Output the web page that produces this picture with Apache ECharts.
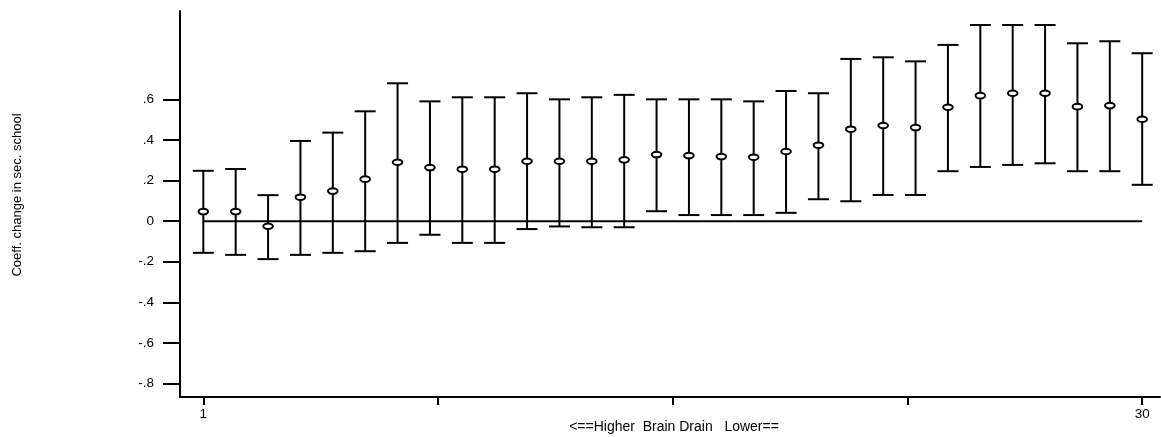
<!DOCTYPE html>
<html>
<head>
<meta charset="utf-8">
<style>
  html, body { margin: 0; padding: 0; background: #fff; }
  #chart { width: 1161px; height: 437px; }
</style>
<script src="https://cdn.jsdelivr.net/npm/echarts@6/dist/echarts.min.js"></script>
</head>
<body>
<div id="chart"></div>
<script>
// ---- data ----
const positions = [1,2,3,4,5,6,7,8,9,10,11,12,13,14,15,16,17,18,19,20,21,22,23,24,25,26,27,28,29,30];
const coef  = [0.047,0.047,-0.025,0.118,0.148,0.207,0.290,0.264,0.256,0.256,0.295,0.295,0.295,0.302,0.328,0.323,0.318,0.315,0.343,0.374,0.453,0.471,0.461,0.561,0.618,0.630,0.630,0.564,0.569,0.502];
const upper = [0.248,0.257,0.128,0.395,0.436,0.541,0.679,0.590,0.610,0.610,0.630,0.600,0.610,0.622,0.600,0.600,0.600,0.590,0.641,0.630,0.799,0.807,0.787,0.868,0.966,0.966,0.966,0.876,0.886,0.827];
const lower = [-0.156,-0.166,-0.187,-0.166,-0.156,-0.148,-0.107,-0.067,-0.107,-0.107,-0.039,-0.026,-0.030,-0.030,0.049,0.030,0.030,0.030,0.041,0.108,0.098,0.129,0.129,0.246,0.267,0.277,0.285,0.246,0.246,0.179];
const yTicks = [-0.8,-0.6,-0.4,-0.2,0,0.2,0.4,0.6];
const xTicks = [1,8.25,15.5,22.75,30];
const xLabels = [1,30];
const yTitle = 'Coeff. change in sec. school';
const xTitle = '<==Higher  Brain Drain   Lower==';

const FONT = "'Liberation Sans', Arial, sans-serif";
const barData = positions.map((p, i) => [p, coef[i], lower[i], upper[i]]);

const chart = echarts.init(document.getElementById('chart'), null, { renderer: 'canvas' });

const option = {
  backgroundColor: '#ffffff',
  animation: false,
  grid: { left: 180, right: 1, top: 11, bottom: 40, containLabel: false, outerBoundsMode: 'none' },
  xAxis: {
    type: 'value',
    min: 0.28, max: 30.55,
    axisLine: { show: true, onZero: false, lineStyle: { color: '#000', width: 2 } },
    axisTick: { show: true, length: 8, customValues: xTicks, lineStyle: { color: '#000', width: 2 } },
    axisLabel: { show: true, customValues: xLabels, margin: 10, color: '#000', fontFamily: FONT, fontSize: 13.5 },
    splitLine: { show: false }
  },
  yAxis: {
    type: 'value',
    min: -0.866, max: 1.035,
    axisLine: { show: true, onZero: false, lineStyle: { color: '#000', width: 2 } },
    axisTick: { show: true, length: 17, customValues: yTicks, lineStyle: { color: '#000', width: 2 } },
    axisLabel: {
      show: true, customValues: yTicks, margin: 26, color: '#000', fontFamily: FONT, fontSize: 13.5,
      formatter: v => {
        const r = Math.round(v * 10) / 10;
        return r === 0 ? '0' : String(r).replace('0.', '.');
      }
    },
    splitLine: { show: false }
  },
  graphic: [{
    type: 'text',
    x: 17, y: 195,
    rotation: Math.PI / 2,
    style: {
      text: yTitle, fill: '#000', font: "13px 'Liberation Sans', Arial, sans-serif",
      textAlign: 'center', textVerticalAlign: 'middle'
    }
  }, {
    type: 'text',
    x: 674, y: 427,
    style: {
      text: xTitle, fill: '#000', font: "14px 'Liberation Sans', Arial, sans-serif",
      textAlign: 'center', textVerticalAlign: 'middle'
    }
  }],
  series: [
    {
      type: 'line',
      data: [[positions[0], 0], [positions[positions.length - 1], 0]],
      symbol: 'none',
      lineStyle: { color: '#000', width: 2 },
      z: 1
    },
    {
      type: 'custom',
      data: barData,
      z: 2,
      renderItem: (params, api) => {
        const x = api.value(0);
        const pm = api.coord([x, api.value(1)]);
        const pl = api.coord([x, api.value(2)]);
        const pu = api.coord([x, api.value(3)]);
        const half = 10.5;
        const st = { stroke: '#000', lineWidth: 2 };
        return {
          type: 'group',
          children: [
            { type: 'line', shape: { x1: pm[0], y1: pu[1], x2: pm[0], y2: pl[1] }, style: st },
            { type: 'line', shape: { x1: pm[0] - half, y1: pu[1], x2: pm[0] + half, y2: pu[1] }, style: st },
            { type: 'line', shape: { x1: pm[0] - half, y1: pl[1], x2: pm[0] + half, y2: pl[1] }, style: st },
            { type: 'ellipse', shape: { cx: pm[0], cy: pm[1], rx: 4.8, ry: 2.8 }, style: { fill: '#fff', stroke: '#000', lineWidth: 2 } }
          ]
        };
      }
    }
  ]
};
chart.setOption(option);
</script>
</body>
</html>
